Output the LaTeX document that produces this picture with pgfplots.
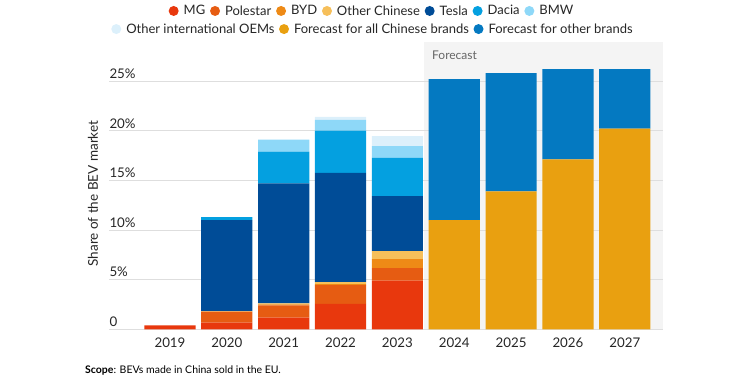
\documentclass[border=0pt]{standalone}
\usepackage{fontspec}
\setmainfont{Lato}
\usepackage{pgfplots}
\pgfplotsset{compat=1.18}
\definecolor{cMG}{HTML}{E8380D}
\definecolor{cPol}{HTML}{E65C12}
\definecolor{cBYD}{HTML}{EE8A16}
\definecolor{cOCh}{HTML}{F6BF5A}
\definecolor{cTes}{HTML}{004C97}
\definecolor{cDac}{HTML}{04A0E0}
\definecolor{cBMW}{HTML}{8ED8F8}
\definecolor{cOInt}{HTML}{DCF0FB}
\definecolor{cFCh}{HTML}{E9A010}
\definecolor{cFOt}{HTML}{0479C1}
\definecolor{cBg}{HTML}{F4F4F4}
\definecolor{cGrid}{HTML}{DEDEDE}
\definecolor{cTxt}{HTML}{262626}
\begin{document}
\begin{tikzpicture}
\useasboundingbox (0pt,0pt) rectangle (750pt,375pt);
\fill[cBg] (424pt,45.7pt) rectangle (663pt,333pt);
\begin{axis}[
  width=554pt, height=287.3pt, scale only axis,
  at={(109pt,45.7pt)}, anchor=south west,
  xmin=-1.0725, xmax=8.672, ymin=0, ymax=28.93,
  ybar stacked, bar width=0.9,
  xtick={0,...,8},
  xticklabels={2019,2020,2021,2022,2023,2024,2025,2026,2027},
  ytick={0,5,10,15,20,25},
  yticklabels={0,5\%,10\%,15\%,20\%,25\%},
  ymajorgrids, grid style={draw=cGrid, line width=0.9pt},
  axis line style={draw=none}, major tick length=0pt,
  ticklabel style={font=\fontsize{13.3}{15}\selectfont, text=cTxt},
  yticklabel style={anchor=south west, xshift=-3pt, yshift=-1pt},
  xticklabel style={yshift=-5pt},
  ylabel={Share of the BEV market},
  every axis y label/.style={at={(axis description cs:-0.029,0.4727)}, rotate=90, anchor=center, font=\fontsize{13.5}{16}\selectfont, text=cTxt},
  legend image code/.code={\fill[#1] (0pt,0pt) circle (5pt);},
  legend columns=-1,
  legend style={draw=none, fill=none, at={(0.4747,1.108)}, anchor=center,
    font=\fontsize{13}{15}\selectfont, text=cTxt,
    /tikz/every odd column/.append style={column sep=3pt},
    /tikz/every even column/.append style={column sep=2.8pt}},
]
\addplot[fill=cMG, draw=none] coordinates {(0,0.4) (1,0.66) (2,1.17) (3,2.57) (4,4.9) (5,0) (6,0) (7,0) (8,0)};
\addlegendentry{MG}
\addplot[fill=cPol, draw=none] coordinates {(0,0) (1,1.11) (2,1.23) (3,1.88) (4,1.26) (5,0) (6,0) (7,0) (8,0)};
\addlegendentry{Polestar}
\addplot[fill=cBYD, draw=none] coordinates {(0,0) (1,0) (2,0.1) (3,0.1) (4,0.91) (5,0) (6,0) (7,0) (8,0)};
\addlegendentry{BYD}
\addplot[fill=cOCh, draw=none] coordinates {(0,0) (1,0.05) (2,0.1) (3,0.2) (4,0.8) (5,0) (6,0) (7,0) (8,0)};
\addlegendentry{Other Chinese}
\addplot[fill=cTes, draw=none] coordinates {(0,0) (1,9.18) (2,12.1) (3,11.0) (4,5.53) (5,0) (6,0) (7,0) (8,0)};
\addlegendentry{Tesla}
\addplot[fill=cDac, draw=none] coordinates {(0,0) (1,0.3) (2,3.2) (3,4.25) (4,3.85) (5,0) (6,0) (7,0) (8,0)};
\addlegendentry{Dacia}
\addplot[fill=cBMW, draw=none] coordinates {(0,0) (1,0) (2,1.2) (3,1.1) (4,1.2) (5,0) (6,0) (7,0) (8,0)};
\addlegendentry{BMW}
\addplot[fill=cOInt, draw=none] coordinates {(0,0) (1,0) (2,0) (3,0.3) (4,1.0) (5,0) (6,0) (7,0) (8,0)};
\addplot[fill=cFCh, draw=none] coordinates {(0,0) (1,0) (2,0) (3,0) (4,0) (5,11.0) (6,13.9) (7,17.1) (8,20.2)};
\addplot[fill=cFOt, draw=none] coordinates {(0,0) (1,0) (2,0) (3,0) (4,0) (5,14.2) (6,11.9) (7,9.1) (8,6.0)};
\end{axis}
\begin{axis}[
  width=554pt, height=287.3pt, scale only axis,
  at={(109pt,45.7pt)}, anchor=south west,
  xmin=0, xmax=1, ymin=0, ymax=1, hide axis,
  legend image code/.code={\fill[#1] (0pt,0pt) circle (5pt);},
  legend columns=-1,
  legend style={draw=none, fill=none, at={(0.4765,1.045)}, anchor=center,
    font=\fontsize{13}{15}\selectfont, text=cTxt,
    /tikz/every odd column/.append style={column sep=3pt},
    /tikz/every even column/.append style={column sep=2.5pt}},
]
\addlegendimage{fill=cOInt, draw=none}
\addlegendentry{Other international OEMs}
\addlegendimage{fill=cFCh, draw=none}
\addlegendentry{Forecast for all Chinese brands}
\addlegendimage{fill=cFOt, draw=none}
\addlegendentry{Forecast for other brands}
\end{axis}
\node[anchor=west, font=\fontsize{12}{14}\selectfont, text=black!60, inner sep=0pt] at (432pt,320pt) {Forecast};
\node[anchor=base west, font=\fontsize{10.5}{13}\selectfont, text=black, inner sep=0pt] at (85pt,1.5pt) {\textbf{Scope}: BEVs made in China sold in the EU.};
\end{tikzpicture}
\end{document}
